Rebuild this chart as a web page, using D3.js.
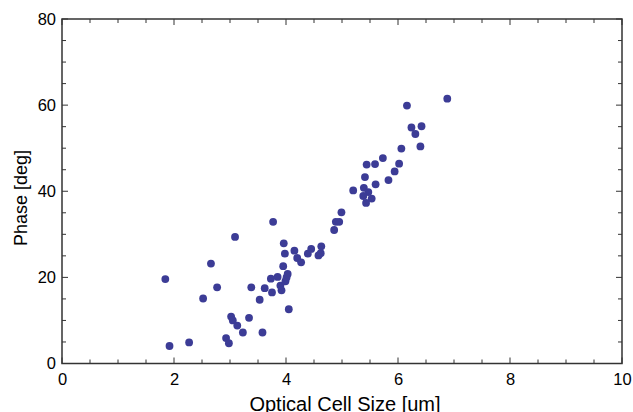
<!DOCTYPE html>
<html><head><meta charset="utf-8">
<script src="https://cdn.jsdelivr.net/npm/d3@7"></script>
<style>body{margin:0;background:#fff}svg{display:block}text{font-family:"Liberation Sans",Arial,sans-serif;fill:#000}</style>
</head><body><svg id="c" width="633" height="412"></svg>
<script>
const cellSize = [1.845,1.92,2.27,2.52,2.66,2.77,3.09,2.93,2.98,3.02,3.05,3.13,3.23,3.34,3.38,3.53,3.58,3.62,3.75,3.73,3.77,3.85,3.92,3.90,3.95,3.96,3.98,3.99,4.01,4.03,4.05,4.15,4.20,4.27,4.39,4.45,4.58,4.62,4.63,4.86,4.89,4.95,4.99,6.88,6.16,6.24,6.42,6.31,6.40,6.06,6.02,5.73,5.94,5.83,5.44,5.59,5.41,5.60,5.20,5.39,5.47,5.38,5.53,5.43];
const phase = [19.6,4.06,4.9,15.1,23.2,17.7,29.4,5.9,4.7,10.9,10.0,8.8,7.2,10.6,17.7,14.8,7.2,17.5,16.5,19.7,32.9,20.1,17.0,18.1,22.6,27.9,25.5,19.1,20.0,20.8,12.6,26.2,24.5,23.5,25.5,26.6,25.1,25.6,27.2,31.0,32.9,32.9,35.1,61.5,59.9,54.8,55.1,53.3,50.4,49.9,46.4,47.7,44.6,42.6,46.2,46.3,43.3,41.6,40.2,40.8,39.8,38.9,38.3,37.3];
const xTicks = [0,2,4,6,8,10];
const yTicks = [0,20,40,60,80];
const xLabel = "Optical Cell Size [um]";
const yLabel = "Phase [deg]";

const svg = d3.select("#c");
const L=62,R=622,T=19,B=363.5;
const x = d3.scaleLinear().domain([0,10]).range([L,R]);
const y = d3.scaleLinear().domain([0,80]).range([B,T]);
const axisCol="#333";

const xMinor = d3.range(0,10.01,0.5), yMinor = d3.range(0,80.1,5);
function tl(v,maj,min,arr){return arr.some(a=>Math.abs(a-v)<1e-6)?maj:min;}
const g = svg.append("g");
xMinor.forEach(v=>{
  const len = tl(v,6,4,xTicks);
  g.append("line").attr("x1",x(v)).attr("x2",x(v)).attr("y1",B).attr("y2",B-len).attr("stroke",axisCol);
  g.append("line").attr("x1",x(v)).attr("x2",x(v)).attr("y1",T).attr("y2",T+len).attr("stroke",axisCol);
});
yMinor.forEach(v=>{
  const len = tl(v,6,4,yTicks);
  g.append("line").attr("y1",y(v)).attr("y2",y(v)).attr("x1",L).attr("x2",L+len).attr("stroke",axisCol);
  g.append("line").attr("y1",y(v)).attr("y2",y(v)).attr("x1",R).attr("x2",R-len).attr("stroke",axisCol);
});
g.append("rect").attr("x",L).attr("y",T).attr("width",R-L).attr("height",B-T).attr("fill","none").attr("stroke",axisCol).attr("stroke-width",1.5);

const xAxis = svg.append("g").attr("transform",`translate(0,${B})`)
  .call(d3.axisBottom(x).tickValues(xTicks).tickSize(0).tickPadding(10).tickFormat(d3.format("d")));
const yAxis = svg.append("g").attr("transform",`translate(${L},0)`)
  .call(d3.axisLeft(y).tickValues(yTicks).tickSize(0).tickPadding(6).tickFormat(d3.format("d")));
[xAxis,yAxis].forEach(a=>{a.select(".domain").remove();a.selectAll("text").attr("font-size",16.5).attr("font-family","Liberation Sans, Arial, sans-serif").attr("fill","#000");});

svg.append("g").selectAll("circle").data(cellSize).join("circle")
  .attr("cx",d=>x(d)).attr("cy",(d,i)=>y(phase[i])).attr("r",3.9).attr("fill","#3c3c96");

svg.append("text").attr("x",345).attr("y",411).attr("text-anchor","middle").attr("font-size",20).text(xLabel);
svg.append("text").attr("transform",`translate(27,198) rotate(-90)`).attr("text-anchor","middle").attr("font-size",18).text(yLabel);
</script></body></html>
